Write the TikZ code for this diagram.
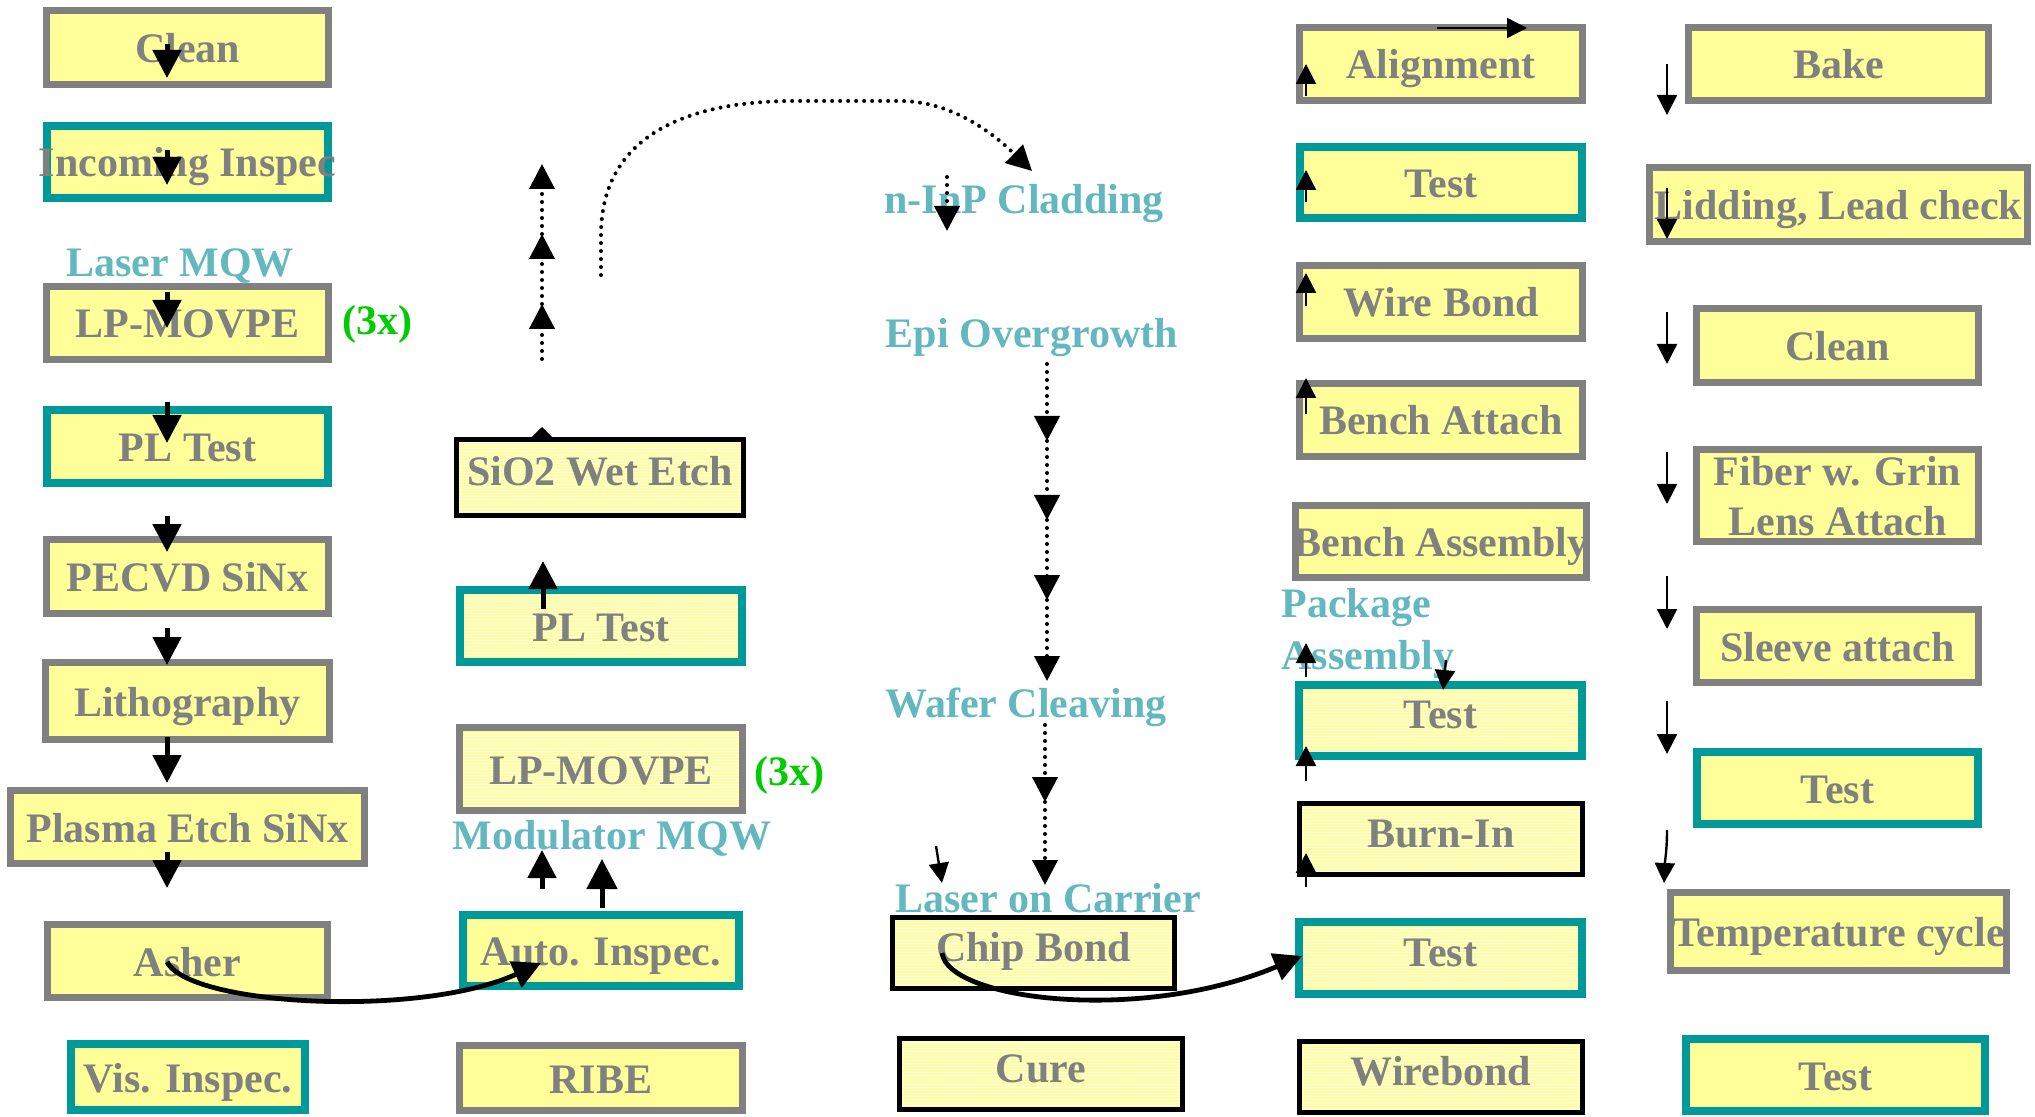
\documentclass[tikz,border=0pt]{standalone}
\usepackage{fontspec}
\setmainfont{Liberation Serif}
\usetikzlibrary{arrows.meta,patterns.meta}

\definecolor{boxfill}{HTML}{FFFF99}
\definecolor{bordgray}{HTML}{808080}
\definecolor{bordteal}{HTML}{009999}
\definecolor{txtgray}{HTML}{808080}
\definecolor{lblcyan}{HTML}{63B8C0}
\definecolor{grn}{HTML}{00CC00}

\newcommand\boxfont{\fontsize{21}{25}\selectfont\bfseries}

% process box: name, x1, y1, x2, y2 (outer edges, px), style, text
\newcommand\pbox[7]{%
  \node[#6, minimum width={(#4-#2)*0.5pt-\pgflinewidth},
        minimum height={(#5-#3)*0.5pt-\pgflinewidth}]
    (#1) at ({(#2+#4)/2},{(#3+#5)/2}) {\makebox[0pt]{#7}};}

\tikzset{
  box/.style={rectangle, inner sep=0pt, outer sep=0pt, fill=boxfill,
    text=txtgray, font=\boxfont, text height=15.75pt, text depth=0.75pt},
  gbox/.style={box, draw=bordgray, line width=3.6pt},
  tbox/.style={box, draw=bordteal, line width=3.8pt},
  kbox/.style={box, draw=black, line width=2.3pt},
  striped/.style={preaction={fill=boxfill},
    pattern={Lines[angle=0,distance=1.5pt,line width=0.45pt]}, pattern color=white},
  lowtext/.style={text height=11pt, text depth=3pt},
  twoline/.style={text height=40.5pt, text depth=0pt},
  lbl/.style={text=lblcyan, font=\boxfont, inner sep=0pt, anchor=base},
  rep/.style={text=grn, font=\boxfont, inner sep=0pt, anchor=base},
  fat/.style={line width=2.5pt, -{Triangle[width=14pt,length=14pt]}},
  fatter/.style={line width=2.5pt, -{Triangle[width=15pt,length=15pt]}},
  dots/.style={line width=2pt, line cap=round, dash pattern=on 0pt off 4pt},
  dotarr/.style={dots, -{Triangle[width=12.5pt,length=12.5pt]}},
  thinarr/.style={line width=1.2pt, -{Triangle[width=10pt,length=10pt]}},
  curvearr/.style={line width=2.4pt, -{Triangle[width=14pt,length=14pt]}},
}

\begin{document}
\begin{tikzpicture}[x=0.5pt, y=-0.5pt]
\useasboundingbox (0,0) rectangle (2035,1117);

% ---------- wafer processing, laser section ----------
\pbox{clean}{43}{7}{332}{88}{gbox}{Clean}
\pbox{incoming}{43}{122}{332}{202}{tbox}{Incoming Inspec}
\node[lbl] (lasermqw) at (180,277) {Laser MQW};
\pbox{lpa}{43}{283}{332}{363}{gbox}{LP-MOVPE}
\node[rep] (repa) at (377,335) {(3x)};
\pbox{pla}{43}{406}{332}{487}{tbox}{PL Test}
\pbox{pecvd}{43}{536}{332}{617}{gbox}{PECVD SiNx}
\pbox{litho}{42}{659}{333}{743}{gbox}{Lithography}
\pbox{plasma}{7}{787}{368}{867}{gbox}{Plasma Etch SiNx}
\pbox{asher}{44}{921}{331}{1001}{gbox}{Asher}
\pbox{vis}{67}{1040}{309}{1114}{tbox}{Vis. Inspec.}

% ---------- modulator section ----------
\pbox{sio}{456}{439}{744}{516}{kbox,striped,lowtext}{SiO2 Wet Etch}
\pbox{plb}{456}{586}{746}{666}{tbox,striped}{PL Test}
\pbox{lpb}{456}{724}{746}{814}{gbox,striped}{LP-MOVPE}
\node[rep] (repb) at (789,785) {(3x)};
\node[lbl] (modmqw) at (612,849) {Modulator MQW};
\pbox{auto}{459}{911}{743}{990}{tbox}{Auto. Inspec.}
\pbox{ribe}{456}{1042}{746}{1114}{gbox}{RIBE}

% ---------- overgrowth and chip ----------
\node[lbl] (clad) at (1024,214) {n-InP Cladding};
\node[lbl] (epi) at (1032,348) {Epi Overgrowth};
\node[lbl] (cleave) at (1026,717) {Wafer Cleaving};
\node[lbl] (carrier) at (1048,912) {Laser on Carrier};
\pbox{chip}{890}{915}{1177}{991}{kbox,striped,lowtext}{Chip Bond}
\pbox{cure}{897}{1036}{1185}{1112}{kbox,striped,lowtext}{Cure}

% ---------- bench and package assembly ----------
\pbox{align}{1296}{24}{1586}{104}{gbox}{Alignment}
\pbox{testa}{1296}{143}{1586}{222}{tbox}{Test}
\pbox{wireb}{1296}{262}{1586}{342}{gbox}{Wire Bond}
\pbox{bencha}{1296}{380}{1586}{460}{gbox}{Bench Attach}
\pbox{benchas}{1292}{502}{1590}{581}{gbox}{Bench Assembly}
\node[lbl, anchor=base west] (pkg) at (1281,617) {Package};
\node[lbl, anchor=base west] (asm) at (1281,669) {Assembly};
\pbox{testb}{1295}{681}{1586}{760}{tbox,striped,lowtext}{Test}
\pbox{burn}{1297}{801}{1585}{877}{kbox,striped,lowtext}{Burn-In}
\pbox{testc}{1295}{918}{1586}{998}{tbox,striped,lowtext}{Test}
\pbox{wirebond}{1297}{1039}{1585}{1115}{kbox,striped,lowtext}{Wirebond}

\pbox{bake}{1685}{24}{1992}{104}{gbox}{Bake}
\pbox{lid}{1646}{164}{2031}{245}{gbox}{Lidding, Lead check}
\pbox{cleanb}{1693}{305}{1982}{386}{gbox}{Clean}
\pbox{fiber}{1693}{446}{1982}{545}{gbox,twoline}{\begin{tabular}[b]{@{}c@{}}Fiber w. Grin\\Lens Attach\end{tabular}}
\pbox{sleeve}{1693}{606}{1982}{686}{gbox}{Sleeve attach}
\pbox{testd}{1693}{748}{1982}{828}{tbox}{Test}
\pbox{temp}{1667}{889}{2010}{974}{gbox}{Temperature cycle}
\pbox{teste}{1682}{1035}{1989}{1115}{tbox}{Test}

% ---------- arrows, first column ----------
\draw[fat] (167,44) coordinate (a1s) -- (167,78) coordinate (a1e);
\draw[fat] (167,150) coordinate (a2s) -- (167,185) coordinate (a2e);
\draw[fat] (167,292) coordinate (a3s) -- (167,328) coordinate (a3e);
\draw[fat] (167,402) coordinate (a4s) -- (167,443) coordinate (a4e);
\draw[fat] (167,516) coordinate (a5s) -- (167,552) coordinate (a5e);
\draw[fat] (167,628) coordinate (a6s) -- (167,665) coordinate (a6e);
\draw[fat] (167,737) coordinate (a7s) -- (167,783) coordinate (a7e);
\draw[fat] (167,852) coordinate (a8s) -- (167,888) coordinate (a8e);

% Asher to Auto. Inspec.
\coordinate (asherout) at (167,962);
\coordinate (autoin) at (541,963);
\draw[curvearr] (asherout) .. controls (190,1006) and (420,1018) .. (autoin);

% ---------- arrows, modulator column ----------
\draw[fat] (542,889) coordinate (m1s) -- (542,850) coordinate (m1e);
\draw[fatter] (602,908) coordinate (m2s) -- (602,859) coordinate (m2e);
\draw[fat] (543,609) coordinate (m3s) -- (543,561) coordinate (m3e);
\draw[line width=1pt, -{Triangle[width=12pt,length=6pt]}] (542,440) coordinate (m4s) -- (542,427) coordinate (m4e);

\coordinate (d0) at (542,359);
\coordinate (d1) at (542,304);
\coordinate (d2) at (542,234);
\coordinate (d3) at (542,164);
\draw[dotarr] (d0) -- (d1);
\draw[dotarr] (d1) -- (d2);
\draw[dotarr] (d2) -- (d3);

% modulator to n-InP cladding
\coordinate (loopstart) at (601,275);
\coordinate (loopend) at (1032,171);
\draw[dotarr] (loopstart) -- (601,235) .. controls (601,140) and (680,102) .. (790,101)
  -- (900,101) .. controls (960,101) and (1005,145) .. (loopend);

% ---------- arrows, overgrowth column ----------
\draw[dotarr] (947,177) coordinate (c0s) -- (947,231) coordinate (c0e);
\coordinate (e0) at (1047,364);
\coordinate (e1) at (1047,441);
\coordinate (e2) at (1047,520);
\coordinate (e3) at (1047,600);
\coordinate (e4) at (1047,681);
\draw[dotarr] (e0) -- (e1);
\draw[dotarr] (e1) -- (e2);
\draw[dotarr] (e2) -- (e3);
\draw[dotarr] (e3) -- (e4);
\coordinate (w0) at (1045,725);
\coordinate (w1) at (1045,802);
\coordinate (w2) at (1045,885);
\draw[dotarr] (w0) -- (w1);
\draw[dotarr] (w1) -- (w2);
\draw[thinarr] (936,846) coordinate (s0) -- (942,883) coordinate (s1);

% Chip Bond to Test
\coordinate (chipout) at (942,953);
\coordinate (testcin) at (1302,956);
\draw[curvearr] (chipout) .. controls (948,1000) and (1140,1024) .. (testcin);

% ---------- arrows, package columns ----------
\draw[thinarr] (1306,96) coordinate (p1s) -- (1306,64) coordinate (p1e);
\draw[thinarr] (1306,202) coordinate (p2s) -- (1306,170) coordinate (p2e);
\draw[thinarr] (1306,306) coordinate (p3s) -- (1306,273) coordinate (p3e);
\draw[thinarr] (1306,414) coordinate (p4s) -- (1306,378) coordinate (p4e);
\draw[thinarr] (1306,677) coordinate (p5s) -- (1306,643) coordinate (p5e);
\draw[thinarr] (1306,781) coordinate (p6s) -- (1306,746) coordinate (p6e);
\draw[thinarr] (1306,887) coordinate (p7s) -- (1306,853) coordinate (p7e);
\draw[thinarr] (1437,28) coordinate (r1s) -- (1527,28) coordinate (r1e);
\draw[thinarr] (1446,660) coordinate (r2s) -- (1443,690) coordinate (r2e);

\draw[thinarr] (1667,64) coordinate (q1s) -- (1667,115) coordinate (q1e);
\draw[thinarr] (1667,188) coordinate (q2s) -- (1667,239) coordinate (q2e);
\draw[thinarr] (1667,312) coordinate (q3s) -- (1667,364) coordinate (q3e);
\draw[thinarr] (1667,452) coordinate (q4s) -- (1667,504) coordinate (q4e);
\draw[thinarr] (1667,576) coordinate (q5s) -- (1667,629) coordinate (q5e);
\draw[thinarr] (1667,701) coordinate (q6s) -- (1667,754) coordinate (q6e);
\draw[thinarr] (1667,830) coordinate (q7s) .. controls (1667,850) and (1665,860) .. (1664,883) coordinate (q7e);

\end{tikzpicture}
\end{document}
